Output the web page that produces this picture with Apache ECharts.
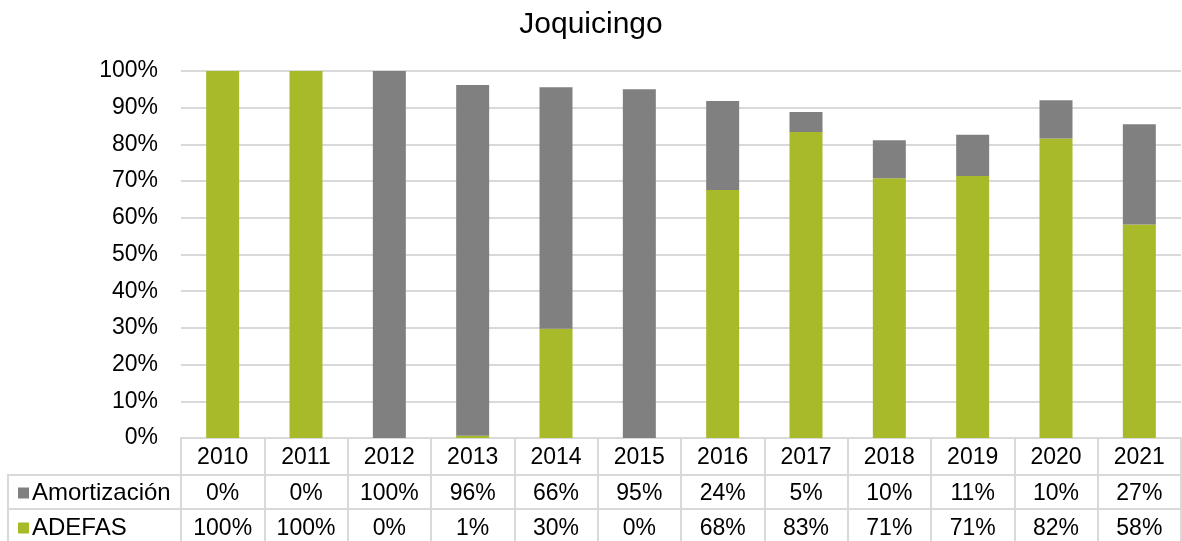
<!DOCTYPE html>
<html>
<head>
<meta charset="utf-8">
<script src="https://cdn.jsdelivr.net/npm/echarts@6/dist/echarts.min.js"></script>
<style>
  html, body { margin: 0; padding: 0; background: #fff; }
  #chart { width: 1182px; height: 541px; }
</style>
</head>
<body>
<div id="chart"></div>
<script>
const years = ['2010', '2011', '2012', '2013', '2014', '2015', '2016', '2017', '2018', '2019', '2020', '2021'];
// percentages, the table shows them rounded
const adefas = [100, 100, 0, 0.6, 29.8, 0, 67.6, 83.4, 70.8, 71.4, 81.6, 58.2];
const amortizacion = [0, 0, 100, 95.6, 65.8, 95, 24.2, 5.4, 10.3, 11.2, 10.4, 27.3];
const yTicks = [0, 10, 20, 30, 40, 50, 60, 70, 80, 90, 100];

const FONT = 'Liberation Sans, Arial, sans-serif';
const GREEN = '#a8b92a';
const GRAY = '#808080';
const LINE = '#d9d9d9';

const chart = echarts.init(document.getElementById('chart'));

const pct = (v) => Math.round(v) + '%';

const rowAxis = (values, offset) => ({
  type: 'category',
  data: years,
  position: 'bottom',
  offset,
  axisLine: { show: false },
  axisTick: { show: false },
  axisLabel: {
    fontFamily: FONT,
    fontSize: 23,
    color: '#000',
    margin: 8,
    formatter: (v, i) => pct(values[i]),
  },
});

const rowLegend = (name, top) => ({
  data: [name],
  left: 18,
  top,
  icon: 'rect',
  itemWidth: 11,
  itemHeight: 11,
  padding: 0,
  textStyle: { fontFamily: FONT, fontSize: 24, color: '#000', padding: [0, 0, 0, -2] },
  selectedMode: false,
});

const option = {
  animation: false,
  title: {
    text: 'Joquicingo',
    left: 'center',
    top: 5,
    textStyle: { fontFamily: FONT, fontSize: 30, fontWeight: 'normal', color: '#000' },
  },
  legend: [rowLegend('Amortización', 481), rowLegend('ADEFAS', 516)],
  grid: { left: 181, right: 1, top: 71, bottom: 103 },
  xAxis: [
    {
      type: 'category',
      data: years,
      axisLine: { lineStyle: { color: LINE, width: 2 } },
      axisTick: { show: true, length: 110, lineStyle: { color: LINE, width: 2 } },
      axisLabel: { fontFamily: FONT, fontSize: 23, color: '#000', margin: 8 },
    },
    rowAxis(amortizacion, 36),
    rowAxis(adefas, 71),
  ],
  yAxis: {
    type: 'value',
    min: yTicks[0],
    max: yTicks[yTicks.length - 1],
    interval: 10,
    axisLine: { show: false },
    axisTick: { show: false },
    axisLabel: { fontFamily: FONT, fontSize: 23, color: '#000', margin: 23, formatter: '{value}%' },
    splitLine: { lineStyle: { color: LINE, width: 2 } },
  },
  graphic: [
    { type: 'line', shape: { x1: 8, y1: 475, x2: 1182, y2: 475 }, style: { stroke: LINE, lineWidth: 2 } },
    { type: 'line', shape: { x1: 8, y1: 509, x2: 1182, y2: 509 }, style: { stroke: LINE, lineWidth: 2 } },
    { type: 'line', shape: { x1: 8, y1: 474, x2: 8, y2: 541 }, style: { stroke: LINE, lineWidth: 2 } },
  ],
  series: [
    {
      name: 'ADEFAS',
      type: 'bar',
      stack: 'total',
      barWidth: 33,
      itemStyle: { color: GREEN },
      data: adefas,
    },
    {
      name: 'Amortización',
      type: 'bar',
      stack: 'total',
      barWidth: 33,
      itemStyle: { color: GRAY },
      data: amortizacion,
    },
  ],
};

chart.setOption(option);
</script>
</body>
</html>
